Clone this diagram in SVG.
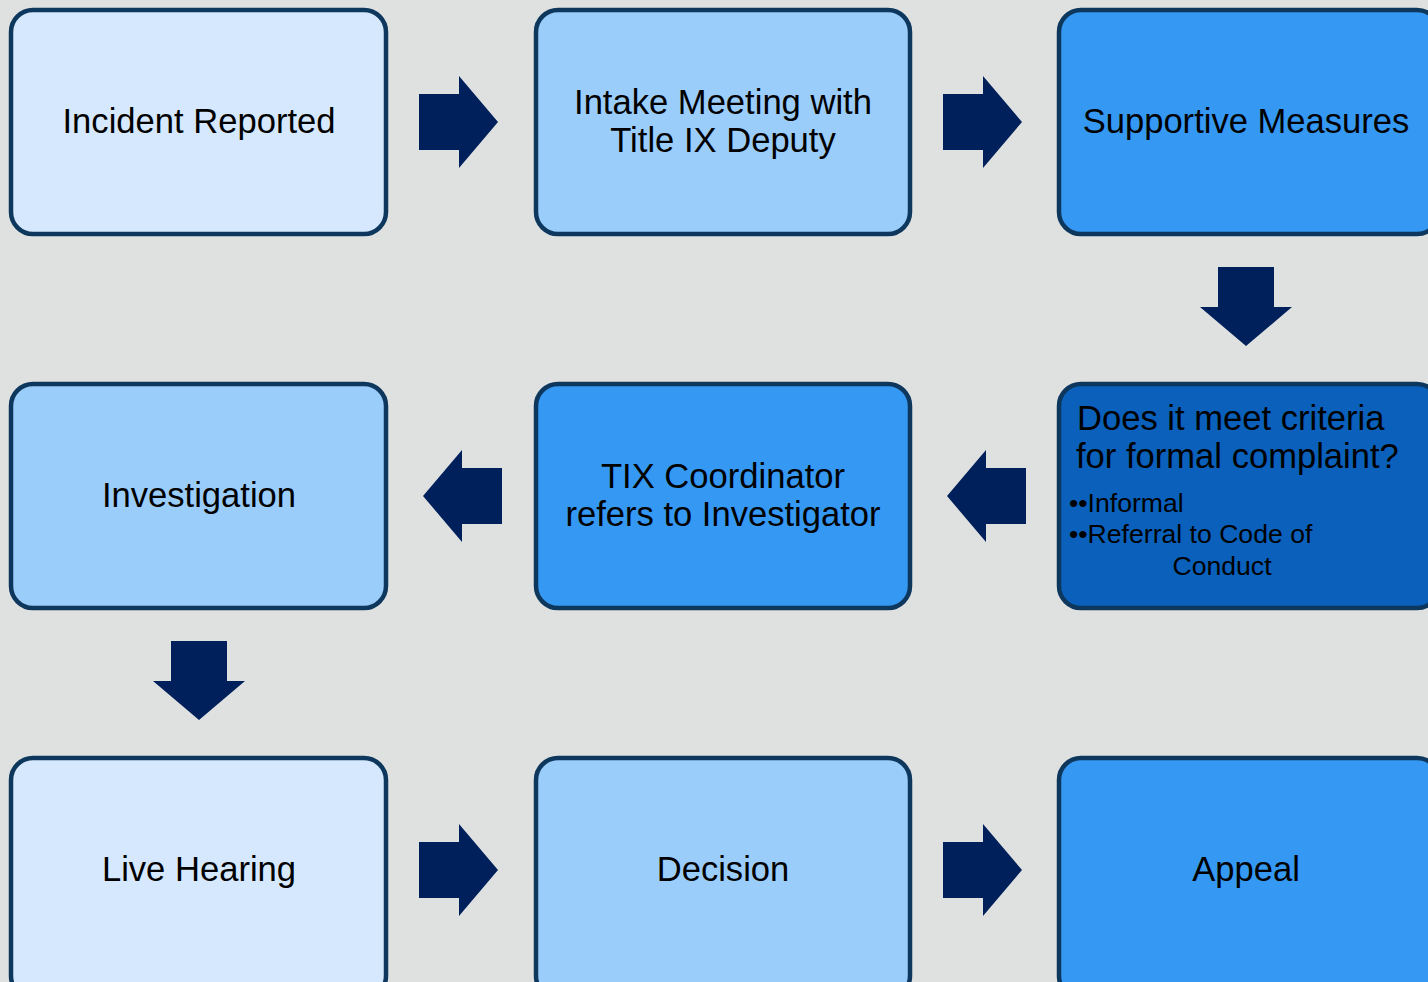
<svg xmlns="http://www.w3.org/2000/svg" width="1428" height="982" viewBox="0 0 1428 982">
<style>
.box{stroke:#0e375d;stroke-width:4.5}
.l1{fill:#d5e8fd}.l2{fill:#9bcdfb}.l3{fill:#3598f3}.l4{fill:#0a60bb}
.t{font-family:"Liberation Sans",Arial,sans-serif;font-size:34.6px;fill:#000;text-anchor:middle}
.s{font-family:"Liberation Sans",Arial,sans-serif;font-size:26.6px;fill:#000}
.arr{fill:#00205b}
</style>
<defs>
<polygon id="ar" points="0,-28 40,-28 40,-46 79,0 40,46 40,28 0,28"/>
</defs>
<rect width="1428" height="982" fill="#dfe1e0"/>
<g id="n1"><rect class="box l1" x="11" y="10" width="375" height="224" rx="22"/><text class="t" x="199" y="133">Incident Reported</text></g>
<g id="n2"><rect class="box l2" x="536" y="10" width="374" height="224" rx="22"/><text class="t" x="723" y="114">Intake Meeting with</text><text class="t" x="723" y="152">Title IX Deputy</text></g>
<g id="n3"><rect class="box l3" x="1059" y="10" width="380" height="224" rx="22"/><text class="t" x="1246" y="133">Supportive Measures</text></g>
<g id="n4"><rect class="box l4" x="1059" y="384" width="380" height="224" rx="22"/><text class="t" x="1077" y="430" style="text-anchor:start">Does it meet criteria</text><text class="t" x="1076" y="468" style="text-anchor:start">for formal complaint?</text><text class="s" x="1069" y="512">••Informal</text><text class="s" x="1069" y="543">••Referral to Code of</text><text class="s" x="1222" y="575" text-anchor="middle">Conduct</text></g>
<g id="n5"><rect class="box l3" x="536" y="384" width="374" height="224" rx="22"/><text class="t" x="723" y="488">TIX Coordinator</text><text class="t" x="723" y="526">refers to Investigator</text></g>
<g id="n6"><rect class="box l2" x="11" y="384" width="375" height="224" rx="22"/><text class="t" x="199" y="507">Investigation</text></g>
<g id="n7"><rect class="box l1" x="11" y="758" width="375" height="240" rx="22"/><text class="t" x="199" y="881">Live Hearing</text></g>
<g id="n8"><rect class="box l2" x="536" y="758" width="374" height="240" rx="22"/><text class="t" x="723" y="881">Decision</text></g>
<g id="n9"><rect class="box l3" x="1059" y="758" width="380" height="240" rx="22"/><text class="t" x="1246" y="881">Appeal</text></g>
<g id="connectors" class="arr">
<use href="#ar" transform="translate(419,122)"/>
<use href="#ar" transform="translate(943,122)"/>
<use href="#ar" transform="translate(1246,267) rotate(90)"/>
<use href="#ar" transform="translate(1026,496) rotate(180)"/>
<use href="#ar" transform="translate(502,496) rotate(180)"/>
<use href="#ar" transform="translate(199,641) rotate(90)"/>
<use href="#ar" transform="translate(419,870)"/>
<use href="#ar" transform="translate(943,870)"/>
</g>
</svg>
